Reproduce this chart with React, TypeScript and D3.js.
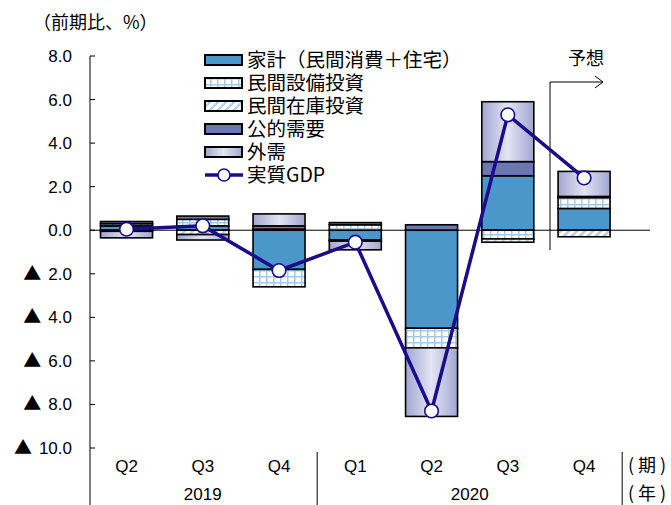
import React, { useEffect, useRef } from "react";
import * as d3 from "d3";

const categories = ["2019Q2", "2019Q3", "2019Q4", "2020Q1", "2020Q2", "2020Q3", "2020Q4"];
const quarterLabels = ["Q2", "Q3", "Q4", "Q1", "Q2", "Q3", "Q4"];
const yearLabels = ["2019", "2020"];
const yearSpans = [[0, 2], [3, 6]];
const household = [0.2, 0.2, -1.8, -0.45, -4.5, 2.5, 1.0];
const capex = [0.1, 0.3, -0.8, 0.25, -0.9, -0.4, 0.5];
const inventory = [-0.05, -0.2, 0.05, -0.05, 0.0, -0.15, -0.3];
const publicDemand = [0.1, 0.15, 0.15, 0.1, 0.25, 0.65, 0.05];
const netExports = [-0.3, -0.25, 0.55, -0.4, -3.15, 2.75, 1.15];
const gdp = [0.05, 0.2, -1.85, -0.55, -8.3, 5.3, 2.4];
const seriesNames = ["家計（民間消費＋住宅）", "民間設備投資", "民間在庫投資", "公的需要", "外需"];
const gdpName = "実質GDP";
const yTicks = [8, 6, 4, 2, 0, -2, -4, -6, -8, -10];

const W = 671, H = 505;

export default function App() {
  const ref = useRef<SVGSVGElement>(null);
  useEffect(() => {
    const svg = d3.select(ref.current);
    svg.selectAll("*").remove();
    const defs = svg.append("defs");
    const grad = defs.append("linearGradient").attr("id", "gExt").attr("x1", 0).attr("x2", 1).attr("y1", 0).attr("y2", 0);
    grad.append("stop").attr("offset", "0%").attr("stop-color", "#a2a6d1");
    grad.append("stop").attr("offset", "50%").attr("stop-color", "#e3e5f3");
    grad.append("stop").attr("offset", "100%").attr("stop-color", "#a2a6d1");
    const pg = defs.append("pattern").attr("id", "pGrid").attr("patternUnits", "userSpaceOnUse").attr("width", 7).attr("height", 6);
    pg.append("rect").attr("width", 7).attr("height", 6).attr("fill", "#fff");
    pg.append("path").attr("d", "M0.75,0V6M0,0.75H7").attr("stroke", "#a3c9e6").attr("stroke-width", 1.5);
    const ps = defs.append("pattern").attr("id", "pStripe").attr("patternUnits", "userSpaceOnUse").attr("width", 8).attr("height", 8);
    ps.append("rect").attr("width", 8).attr("height", 8).attr("fill", "#fff");
    ps.append("path").attr("d", "M-2,10L10,-2M-2,2L2,-2M6,10L10,6").attr("stroke", "#b3d4ec").attr("stroke-width", 2.5);

    const fills = ["#4b97c9", "url(#pGrid)", "url(#pStripe)", "#6a77b3", "url(#gExt)"];

    const x = d3.scaleBand().domain(categories).range([88.4, 622.2]).padding(0);
    const y = d3.scaleLinear().domain([-10, 8]).range([448, 56]);
    const bw = 52;
    const cx = (i: number) => (x(categories[i]) as number) + x.bandwidth() / 2;

    const numFont = "'Liberation Sans', Arial, sans-serif";
    const jpFont = "'Noto Sans CJK JP', sans-serif";

    // title
    svg.append("text").attr("x", 33).attr("y", 29).attr("font-family", jpFont).attr("font-size", 18).attr("fill", "#000").text("（前期比、%）");

    // y axis
    svg.append("line").attr("x1", 90).attr("x2", 90).attr("y1", y(8)).attr("y2", H).attr("stroke", "#000").attr("stroke-width", 1);
    yTicks.forEach((v) => {
      svg.append("line").attr("x1", 90).attr("x2", 95).attr("y1", y(v)).attr("y2", y(v)).attr("stroke", "#000");
      const t = svg.append("text").attr("x", 72).attr("y", y(v) + 6).attr("text-anchor", "end").attr("font-family", numFont).attr("font-size", 17);
      if (v < 0) {
        t.append("tspan").attr("font-family", jpFont).attr("font-size", 18).text("▲");
        t.append("tspan").attr("dx", 7).text(Math.abs(v).toFixed(1));
      } else {
        t.text(v.toFixed(1));
      }
    });

    // stacked bars
    const rows = categories.map((c, i) => ({ c, s0: household[i], s1: capex[i], s2: inventory[i], s3: publicDemand[i], s4: netExports[i] }));
    const keys = ["s0", "s1", "s2", "s3", "s4"];
    const stacked = d3.stack<any>().keys(keys).offset(d3.stackOffsetDiverging)(rows);
    stacked.forEach((layer, k) => {
      layer.forEach((d, i) => {
        const a = Math.min(d[0], d[1]), b = Math.max(d[0], d[1]);
        if (b - a < 1e-9) return;
        svg.append("rect").attr("x", cx(i) - bw / 2).attr("width", bw).attr("y", y(b)).attr("height", y(a) - y(b))
          .attr("fill", fills[k]).attr("stroke", "#000").attr("stroke-width", 1.6);
      });
    });

    // zero line
    svg.append("line").attr("x1", 90).attr("x2", 650).attr("y1", y(0)).attr("y2", y(0)).attr("stroke", "#000").attr("stroke-width", 1);

    // forecast marker
    svg.append("path").attr("d", `M550,250V82H603M595,76L603,82L595,88`).attr("fill", "none").attr("stroke", "#000").attr("stroke-width", 1);
    svg.append("text").attr("x", 586).attr("y", 65).attr("text-anchor", "middle").attr("font-family", jpFont).attr("font-size", 18).text("予想");

    // GDP line
    const line = d3.line<number>().x((_, i) => cx(i)).y((v) => y(v));
    svg.append("path").attr("d", line(gdp) as string).attr("fill", "none").attr("stroke", "#1c0c8c").attr("stroke-width", 3.5);
    gdp.forEach((v, i) => {
      svg.append("circle").attr("cx", cx(i)).attr("cy", y(v)).attr("r", 6.8).attr("fill", "#fff").attr("stroke", "#1c0c8c").attr("stroke-width", 1.6);
    });

    // legend
    const lx = 205, ly0 = 60, ldy = 23;
    seriesNames.forEach((n, k) => {
      const yy = ly0 + k * ldy;
      svg.append("rect").attr("x", lx).attr("y", yy - 5).attr("width", 37).attr("height", 10).attr("fill", fills[k])
        .attr("stroke", "#000").attr("stroke-width", 2);
      svg.append("text").attr("x", lx + 42).attr("y", yy + 7).attr("font-family", jpFont).attr("font-size", 19.5).text(n);
    });
    {
      const yy = ly0 + 5 * ldy;
      svg.append("line").attr("x1", lx).attr("x2", lx + 38).attr("y1", yy).attr("y2", yy).attr("stroke", "#1c0c8c").attr("stroke-width", 3.5);
      svg.append("circle").attr("cx", lx + 19).attr("cy", yy).attr("r", 6).attr("fill", "#fff").attr("stroke", "#1c0c8c").attr("stroke-width", 1.6);
      svg.append("text").attr("x", lx + 42).attr("y", yy + 7).attr("font-family", jpFont).attr("font-size", 19.5).text(gdpName);
    }

    // category labels
    quarterLabels.forEach((q, i) => {
      svg.append("text").attr("x", cx(i)).attr("y", 472).attr("text-anchor", "middle").attr("font-family", numFont).attr("font-size", 17).text(q);
    });
    yearLabels.forEach((t, j) => {
      const [s, e] = yearSpans[j];
      svg.append("text").attr("x", (cx(s) + cx(e)) / 2).attr("y", 500).attr("text-anchor", "middle").attr("font-family", numFont).attr("font-size", 17).text(t);
    });
    [3, 7].forEach((b) => {
      const xx = (x.range()[0]) + b * x.step();
      svg.append("line").attr("x1", xx).attr("x2", xx).attr("y1", 452).attr("y2", H).attr("stroke", "#000");
    });
    svg.append("text").attr("x", 628).attr("y", 472).attr("font-family", jpFont).attr("font-size", 18).attr("letter-spacing", 4).text("(期)");
    svg.append("text").attr("x", 628).attr("y", 500).attr("font-family", jpFont).attr("font-size", 18).attr("letter-spacing", 4).text("(年)");
  }, []);
  return (
    <svg ref={ref} width={W} height={H} style={{ position: "absolute", left: 0, top: 0, background: "#fff" }} />
  );
}
